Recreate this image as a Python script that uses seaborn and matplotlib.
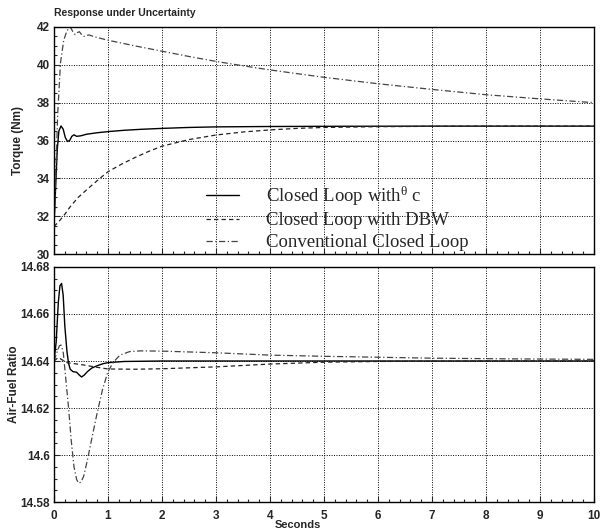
import numpy as np
import pandas as pd
import seaborn as sns
import matplotlib
matplotlib.use("Agg")
import matplotlib.pyplot as plt
from matplotlib.ticker import MultipleLocator, FuncFormatter

# --- dane: moment obrotowy (Nm) ---
t_tq_theta = [0, 0.03, 0.06, 0.09, 0.13, 0.17, 0.21, 0.25, 0.29, 0.33, 0.37, 0.42, 0.5, 0.6,
              0.8, 1.0, 1.3, 1.6, 2.0, 2.5, 3.0, 4.0, 5.0, 7.0, 10.0]
tq_theta = [31.5, 33.5, 35.5, 36.5, 36.77, 36.6, 36.15, 35.95, 36.0, 36.22, 36.3, 36.22, 36.25, 36.33,
            36.41, 36.47, 36.54, 36.59, 36.64, 36.69, 36.72, 36.74, 36.75, 36.76, 36.76]

t_tq_dbw = [0, 0.1, 0.2, 0.3, 0.45, 0.67, 0.85, 1.0, 1.25, 1.5, 1.75, 2.0, 2.5, 3.0, 3.5,
            4.0, 4.5, 5.0, 6.0, 7.0, 8.0, 10.0]
tq_dbw = [31.45, 31.75, 32.1, 32.5, 33.0, 33.56, 34.0, 34.35, 34.75, 35.1, 35.42, 35.7, 36.05, 36.29, 36.45,
          36.56, 36.64, 36.69, 36.73, 36.75, 36.76, 36.76]

t_tq_conv = [0, 0.03, 0.07, 0.12, 0.18, 0.24, 0.3, 0.35, 0.39, 0.43, 0.47, 0.51, 0.55, 0.6, 0.65,
             0.75, 1.0, 1.5, 2.0, 2.5, 3.0, 3.5, 4.0, 5.0, 6.0, 7.0, 8.0, 9.0, 10.0]
tq_conv = [31.5, 34.0, 37.5, 40.1, 41.3, 41.8, 42.0, 41.75, 41.6, 41.7, 41.75, 41.6, 41.5, 41.55, 41.58,
           41.48, 41.3, 41.0, 40.72, 40.44, 40.18, 39.95, 39.73, 39.34, 39.0, 38.7, 38.42, 38.2, 38.0]

# --- dane: stosunek powietrze/paliwo ---
t_af_theta = [0, 0.04, 0.08, 0.11, 0.14, 0.17, 0.2, 0.24, 0.27, 0.3, 0.35, 0.42, 0.47, 0.51, 0.56,
              0.62, 0.7, 0.8, 0.9, 1.0, 1.3, 2.0, 10.0]
af_theta = [14.64, 14.648, 14.665, 14.672, 14.673, 14.668, 14.655, 14.644, 14.639, 14.6365, 14.6355,
            14.6352, 14.634, 14.6332, 14.634, 14.6355, 14.637, 14.638, 14.6388, 14.6393, 14.6398, 14.64, 14.64]

t_af_dbw = [0, 0.08, 0.15, 0.25, 0.4, 0.55, 0.75, 1.0, 1.5, 2.0, 3.0, 4.0, 5.0, 6.0, 8.0, 10.0]
af_dbw = [14.64, 14.6415, 14.6405, 14.6392, 14.6388, 14.6383, 14.6375, 14.6366, 14.6365, 14.6367,
          14.6375, 14.6387, 14.6395, 14.6398, 14.64, 14.64]

t_af_conv = [0, 0.06, 0.1, 0.13, 0.17, 0.22, 0.27, 0.32, 0.37, 0.42, 0.46, 0.5, 0.55, 0.62, 0.7,
             0.8, 0.9, 1.0, 1.1, 1.22, 1.4, 1.6, 2.0, 3.0, 4.0, 5.0, 6.0, 7.0, 8.5, 10.0]
af_conv = [14.64, 14.644, 14.6465, 14.6468, 14.644, 14.632, 14.62, 14.606, 14.595, 14.5895, 14.588,
           14.5885, 14.591, 14.598, 14.607, 14.618, 14.628, 14.6355, 14.6395, 14.6425, 14.644, 14.6443,
           14.6442, 14.6435, 14.6425, 14.642, 14.6416, 14.6412, 14.6409, 14.6407]

labels = ["Closed Loop with$^{\\mathrm{θ}}$ c", "Closed Loop with DBW", "Conventional Closed Loop"]

# --- styl ---
sns.set_style("ticks")
plt.rcParams["font.family"] = ["Liberation Sans", "DejaVu Sans"]
plt.rcParams["mathtext.fontset"] = "custom"
plt.rcParams["mathtext.rm"] = "Liberation Serif"
plt.rcParams["mathtext.it"] = "Liberation Serif:italic"

styles = [
    dict(color="black", linestyle="-", lw=1.0),
    dict(color="#222222", linestyle=(0, (3.5, 2.5)), lw=0.9),
    dict(color="#444444", linestyle=(0, (5, 2, 1, 2)), lw=0.9),
]

fig = plt.figure(figsize=(6.0, 5.29), dpi=100)
ax1 = fig.add_axes([0.09, 0.5198, 0.90, 0.4292])
ax2 = fig.add_axes([0.09, 0.0510, 0.90, 0.4443])

# 1. moment obrotowy
for (t, v), lab, st in zip([(t_tq_theta, tq_theta), (t_tq_dbw, tq_dbw), (t_tq_conv, tq_conv)], labels, styles):
    sns.lineplot(x=t, y=v, ax=ax1, label=lab, **st)

# 2. stosunek A/F
for (t, v), st in zip([(t_af_theta, af_theta), (t_af_dbw, af_dbw), (t_af_conv, af_conv)], styles):
    sns.lineplot(x=t, y=v, ax=ax2, **st)

ax1.set_ylim(30, 42)
ax1.yaxis.set_major_locator(MultipleLocator(2))
ax1.yaxis.set_minor_locator(MultipleLocator(0.5))
ax2.set_ylim(14.58, 14.68)
ax2.yaxis.set_major_locator(MultipleLocator(0.02))
ax2.yaxis.set_minor_locator(MultipleLocator(0.005))
ax2.yaxis.set_major_formatter(FuncFormatter(lambda v, p: f"{v:.2f}".rstrip("0")))

for ax in (ax1, ax2):
    ax.set_xlim(0, 10)
    ax.xaxis.set_major_locator(MultipleLocator(1))
    ax.xaxis.set_minor_locator(MultipleLocator(0.2))
    ax.grid(True, which="major", color="black", linestyle=(0, (1, 1.5)), lw=0.7)
    ax.tick_params(which="both", direction="in", top=False, right=False, width=0.8)
    ax.tick_params(which="major", length=4, labelsize=8.5, pad=3)
    ax.tick_params(which="minor", length=2.5)
    for sp in ax.spines.values():
        sp.set_linewidth(1.0)
        sp.set_color("black")
    for lb in ax.get_yticklabels() + ax.get_xticklabels():
        lb.set_fontweight("bold")
    ax.set_xlabel("")
    ax.set_ylabel("")

ax1.tick_params(axis="x", labelbottom=False)
ax2.tick_params(axis="x", pad=6)

fig.text(0.09, 0.975, "Response under Uncertainty", fontsize=7.5, fontweight="bold", va="center", ha="left")
fig.text(0.03, 0.734, "Torque (Nm)", fontsize=8.5, fontweight="bold", rotation=90, va="center", ha="center")
fig.text(0.024, 0.273, "Air-Fuel Ratio", fontsize=8.5, fontweight="bold", rotation=90, va="center", ha="center")
fig.text(0.497, 0.017, "Seconds", fontsize=8, fontweight="bold", va="top", ha="center")

ax1.legend(loc="center left", bbox_to_anchor=(0.265, 0.16), frameon=False,
           prop={"family": "Liberation Serif", "size": 13.5}, handlelength=1.75,
           handletextpad=1.4, labelspacing=0.25, borderpad=0)

plt.savefig("out.png", dpi=100)
